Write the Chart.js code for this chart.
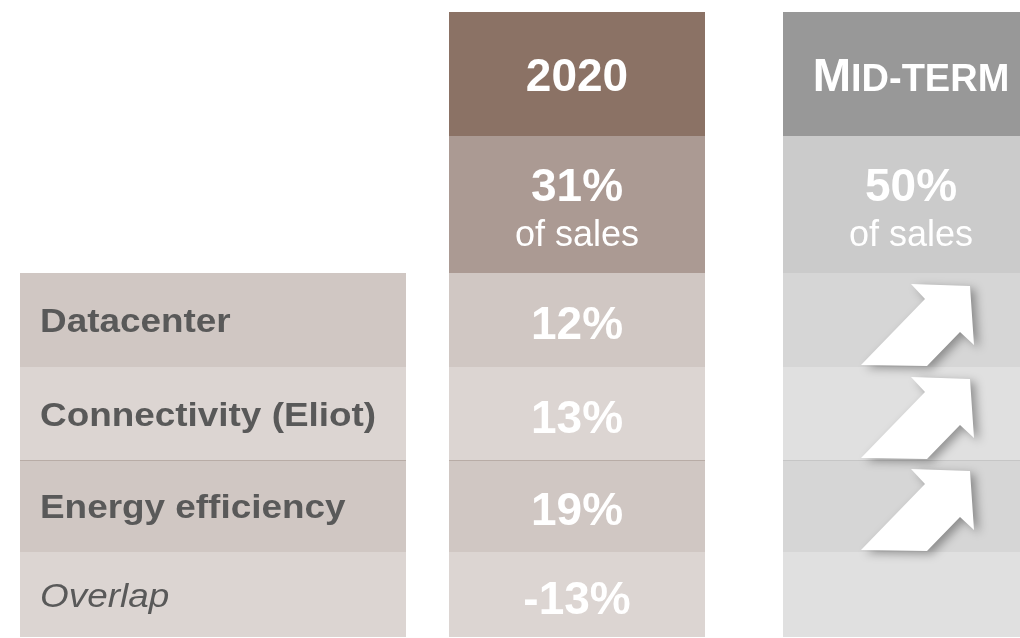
<!DOCTYPE html>
<html>
<head>
<meta charset="utf-8">
<script src="https://cdn.jsdelivr.net/npm/chart.js@4"></script>
<style>
  body { margin: 0; background: #fff; }
  canvas { display: block; }
</style>
</head>
<body>
<canvas id="myChart" width="1020" height="638"></canvas>
<script>
// data
let periods = ['2020', 'Mid-term'];
let rowLabels = ['Datacenter', 'Connectivity (Eliot)', 'Energy efficiency', 'Overlap'];
let share2020 = [12, 13, 19, -13];
let total2020 = 31;
let totalMidTerm = 50;
let midTermTrend = ['up', 'up', 'up', ''];

// layout (pixels == scale units)
let W = 1020, H = 638;
let cols = {
  label: { center: 213, width: 386 },
  y2020: { center: 577, width: 256 },
  mid: { center: 911, width: 256 }
};
let headEdges = [12, 136, 273];
let rowEdges = [273, 367, 460, 552, 637];

let brown = { head: '#8B7265', sub: '#AB9A93', rows: ['#D0C7C3', '#DCD5D2'], line: '#B8ACA6' };
let grey = { head: '#989898', sub: '#CBCBCB', rows: ['#D6D6D6', '#E0E0E0'], line: '#C6C6C6' };

function cellsFor(col, withHead) {
  let d = [];
  if (withHead) {
    d.push({ x: col.center, y: [headEdges[0], headEdges[1]] });
    d.push({ x: col.center, y: [headEdges[1], headEdges[2]] });
  }
  rowLabels.forEach((r, i) => {
    d.push({ x: col.center, y: [rowEdges[i], rowEdges[i + 1]] });
  });
  return d;
}

function colorsFor(pal, withHead) {
  let c = withHead ? [pal.head, pal.sub] : [];
  rowLabels.forEach((r, i) => c.push(pal.rows[i % 2]));
  return c;
}

// thin line on top of the "Energy efficiency" row
function sepBorder(offset) {
  return ctx => ctx.dataIndex === offset + 2 ? { top: 1, bottom: 0, left: 0, right: 0 } : 0;
}

function dataset(col, pal, withHead) {
  let offset = withHead ? 2 : 0;
  return {
    data: cellsFor(col, withHead),
    backgroundColor: colorsFor(pal, withHead),
    borderColor: pal.line,
    borderWidth: sepBorder(offset),
    borderSkipped: false,
    barThickness: col.width,
    grouped: false,
    inflateAmount: 0
  };
}

// arrow shape, relative to (cell left, cell bottom)
let arrowPts = [[78, -2], [142, -68], [128, -83], [187, -81], [191, -22], [177, -35], [144, -1]];

let FONT = '"Liberation Sans", Arial, sans-serif';

let tablePlugin = {
  id: 'tableText',
  afterDatasetsDraw(chart) {
    let c = chart.ctx;
    let xs = chart.scales.x, ys = chart.scales.y;
    let px = v => xs.getPixelForValue(v);
    let py = v => ys.getPixelForValue(v);
    c.save();
    c.textAlign = 'center';
    c.textBaseline = 'alphabetic';

    // header 2020
    let hc = (py(headEdges[0]) + py(headEdges[1])) / 2;
    c.fillStyle = '#fff';
    c.font = 'bold 46px ' + FONT;
    c.fillText(periods[0], px(cols.y2020.center), hc + 17);

    // header MID-TERM as small caps
    let big = 'bold 46px ' + FONT;
    let small = 'bold 38px ' + FONT;
    let t = periods[1].toUpperCase();
    c.font = big; let w1 = c.measureText(t[0]).width;
    c.font = small; let w2 = c.measureText(t.slice(1)).width;
    let sx = px(cols.mid.center) - (w1 + w2) / 2;
    c.textAlign = 'left';
    c.font = big; c.fillText(t[0], sx, hc + 17);
    c.font = small; c.fillText(t.slice(1), sx + w1, hc + 17);
    c.textAlign = 'center';

    // totals
    let sc = (py(headEdges[1]) + py(headEdges[2])) / 2;
    [[cols.y2020, total2020], [cols.mid, totalMidTerm]].forEach(([col, v]) => {
      c.font = 'bold 46px ' + FONT;
      c.fillText(v + '%', px(col.center), sc - 4);
      c.font = '36px ' + FONT;
      c.fillText('of sales', px(col.center), sc + 41);
    });

    // rows
    rowLabels.forEach((lab, i) => {
      let rc = (py(rowEdges[i]) + py(rowEdges[i + 1])) / 2;
      let last = i === rowLabels.length - 1;
      c.save();
      c.textAlign = 'left';
      c.fillStyle = '#595959';
      c.font = (last ? 'italic ' : 'bold ') + '34px ' + FONT;
      c.translate(px(cols.label.center - cols.label.width / 2) + 20, rc + 12);
      c.scale(1.085, 1);
      c.fillText(lab, 0, 0);
      c.restore();

      c.textAlign = 'center';
      c.fillStyle = '#fff';
      c.font = 'bold 46px ' + FONT;
      c.fillText(share2020[i] + '%', px(cols.y2020.center), rc + 19);

      if (midTermTrend[i] === 'up') {
        let x0 = px(cols.mid.center - cols.mid.width / 2);
        let y0 = py(rowEdges[i + 1]);
        c.save();
        c.shadowColor = 'rgba(0,0,0,0.35)';
        c.shadowBlur = 10;
        c.shadowOffsetX = 5;
        c.shadowOffsetY = 3;
        c.fillStyle = '#fff';
        c.beginPath();
        arrowPts.forEach((p, k) => {
          let ax = x0 + p[0], ay = y0 + p[1];
          if (k === 0) c.moveTo(ax, ay); else c.lineTo(ax, ay);
        });
        c.closePath();
        c.fill();
        c.restore();
      }
    });
    c.restore();
  }
};

let ctx = document.getElementById('myChart').getContext('2d');
let myChart = new Chart(ctx, {
  type: 'bar',
  data: {
    datasets: [
      dataset(cols.label, brown, false),
      dataset(cols.y2020, brown, true),
      dataset(cols.mid, grey, true)
    ]
  },
  options: {
    responsive: false,
    animation: false,
    layout: { padding: 0 },
    scales: {
      x: { type: 'linear', min: 0, max: W, offset: false, display: false },
      y: { type: 'linear', min: 0, max: H, reverse: true, display: false }
    },
    plugins: { legend: { display: false }, tooltip: { enabled: false } }
  },
  plugins: [tablePlugin]
});
</script>
</body>
</html>
